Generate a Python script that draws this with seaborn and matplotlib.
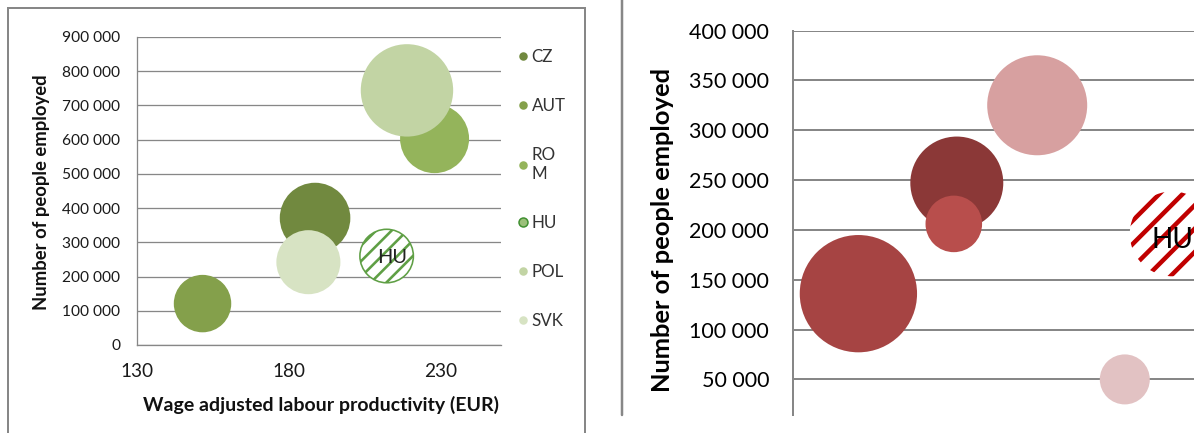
import numpy as np
import pandas as pd
import matplotlib
matplotlib.use("Agg")
import matplotlib.pyplot as plt
import seaborn as sns
from matplotlib.lines import Line2D
from matplotlib.patches import Rectangle
from matplotlib.ticker import FuncFormatter, FixedLocator

# ---------------- data: left chart ----------------
left_countries = ["CZ", "AUT", "ROM", "HU", "POL", "SVK"]
left_legend_labels = ["CZ", "AUT", "RO\nM", "HU", "POL", "SVK"]
left_productivity = [188.7, 151.6, 228.1, 212.3, 219.0, 186.5]
left_employed = [371000, 121000, 603000, 260000, 744000, 242000]
left_bubble = [1245, 825, 1190, 715, 2135, 1025]
left_colors = ["#71893F", "#84A04B", "#94B45B", "#5F9F45", "#C2D4A4", "#D7E3C3"]
left_xticks = [130, 180, 230]
left_yticks = [0, 100000, 200000, 300000, 400000, 500000, 600000, 700000, 800000, 900000]

# ---------------- data: right chart ----------------
right_series = ["S1", "S2", "S3", "S4", "S5", "HU"]
right_productivity = [140.9, 157.3, 156.8, 170.7, 185.3, 193.2]
right_employed = [136000, 247000, 206000, 325000, 50000, 196000]
right_bubble = [3440, 2160, 800, 2500, 625, 1800]
right_colors = ["#A64443", "#8B3837", "#B84E4C", "#D7A0A0", "#E2C2C3", "#C00000"]
right_yticks = [50000, 100000, 150000, 200000, 250000, 300000, 350000, 400000]

W, H, DPI = 1194, 433, 140
P = 72 / DPI  # points per pixel
GRID = "#878787"

sns.set_style("white")
plt.rcParams["font.family"] = ["Lato", "DejaVu Sans"]

fig = plt.figure(figsize=(W / DPI, H / DPI), dpi=DPI)

def fmt(v, pos=None):
    return f"{v:,.0f}".replace(",", " ")

# ---------------- left chart ----------------
ax1 = fig.add_axes([137 / W, 1 - 345 / H, 364 / W, 308 / H])
dfL = pd.DataFrame({"country": left_countries, "x": left_productivity,
                    "y": left_employed, "bubble": left_bubble})
palL = dict(zip(left_countries, left_colors))
vmaxL = max(left_bubble)
sizesL = (0, 4 * P * P * vmaxL)
sns.scatterplot(data=dfL[dfL.country != "HU"], x="x", y="y", hue="country",
                palette=palL, size="bubble", sizes=sizesL, size_norm=(0, vmaxL),
                linewidth=0, alpha=1, legend=False, ax=ax1, zorder=3)
hu = dfL[dfL.country == "HU"]
plt.rcParams["hatch.linewidth"] = 2.6 * P
sns.scatterplot(data=hu, x="x", y="y", size="bubble", sizes=sizesL, size_norm=(0, vmaxL),
                color="white", edgecolor=palL["HU"], linewidth=1.6 * P, hatch="///",
                legend=False, ax=ax1, zorder=3)
coll = ax1.collections[-1]
if hasattr(coll, "set_hatch_linewidth"):
    coll.set_hatch_linewidth(2.6 * P)
ax1.annotate("HU", (hu.x.iloc[0], hu.y.iloc[0]), xytext=(5 * P, -1 * P),
             textcoords="offset points", ha="center", va="center",
             fontsize=20 * P, color="#222222", zorder=4)

ax1.set_xlim(130, 250)
ax1.set_ylim(0, 900000)
ax1.xaxis.set_major_locator(FixedLocator(left_xticks))
ax1.yaxis.set_major_locator(FixedLocator(left_yticks))
ax1.yaxis.set_major_formatter(FuncFormatter(fmt))
ax1.grid(False)
ax1.yaxis.grid(True, color=GRID, lw=1.3 * P)
ax1.set_axisbelow(True)
for s in ["top", "right"]:
    ax1.spines[s].set_visible(False)
for s in ["left", "bottom"]:
    ax1.spines[s].set_color(GRID)
    ax1.spines[s].set_linewidth(1.3 * P)
ax1.tick_params(axis="both", direction="out", length=5 * P, width=1.3 * P,
                color=GRID, labelcolor="#1a1a1a")
ax1.tick_params(axis="x", labelsize=19 * P, pad=13 * P)
ax1.tick_params(axis="y", labelsize=15.5 * P, pad=12 * P)
ax1.set_xlabel("Wage adjusted labour productivity (EUR)", fontsize=19.5 * P,
               fontweight="bold", color="#111111", va="center")
ax1.xaxis.set_label_coords(0.505, -0.195)
ax1.set_ylabel("Number of people employed", fontsize=18.5 * P, fontweight="bold",
               color="#111111", va="center")
ax1.yaxis.set_label_coords(-0.261, 0.497)

handles = []
for c, col in zip(left_countries, left_colors):
    if c == "HU":
        handles.append(Line2D([], [], marker="o", ls="none", markersize=9 * P,
                              markerfacecolor="#9BC07A", markeredgecolor="#3F8F2F",
                              markeredgewidth=1.5 * P))
    else:
        handles.append(Line2D([], [], marker="o", ls="none", markersize=8.5 * P,
                              markerfacecolor=col, markeredgewidth=0))
leg = ax1.legend(handles, left_legend_labels, loc="upper left",
                 bbox_to_anchor=((519 - 137) / 364, (345 - 49) / 308),
                 frameon=False, fontsize=17 * P, handlelength=0.45,
                 handletextpad=0.3, labelspacing=1.95, borderpad=0, borderaxespad=0)
for t in leg.get_texts():
    t.set_color("#333333")

# frame around left chart
fig.patches.append(Rectangle((8 / W, -0.05), (585 - 8) / W, 1 - 8 / H + 0.05,
                             transform=fig.transFigure, fill=False,
                             edgecolor=GRID, lw=2 * P))
# separator line
fig.lines.append(Line2D([622 / W, 622 / W], [1 - 415 / H, 1], transform=fig.transFigure,
                        color=GRID, lw=2.5 * P))

# ---------------- right chart ----------------
ax2 = fig.add_axes([793 / W, 1 - 415 / H, 600 / W, 384.5 / H])
dfR = pd.DataFrame({"series": right_series, "x": right_productivity,
                    "y": right_employed, "bubble": right_bubble})
palR = dict(zip(right_series, right_colors))
vmaxR = max(right_bubble)
sizesR = (0, 4 * P * P * vmaxR)
sns.scatterplot(data=dfR[dfR.series != "HU"], x="x", y="y", hue="series",
                palette=palR, size="bubble", sizes=sizesR, size_norm=(0, vmaxR),
                linewidth=0, alpha=1, legend=False, ax=ax2, zorder=3)
huR = dfR[dfR.series == "HU"]
sns.scatterplot(data=huR, x="x", y="y", size="bubble", sizes=sizesR, size_norm=(0, vmaxR),
                color="white", edgecolor=palR["HU"], linewidth=0, hatch="//",
                legend=False, ax=ax2, zorder=3)
coll = ax2.collections[-1]
if hasattr(coll, "set_hatch_linewidth"):
    coll.set_hatch_linewidth(4.5 * P)
ax2.annotate("HU", (huR.x.iloc[0], huR.y.iloc[0]), xytext=(0, -6 * P),
             textcoords="offset points", ha="center", va="center",
             fontsize=28 * P, color="#000000", zorder=4)

ax2.set_xlim(130, 230)
ax2.set_ylim(14300, 400000)
ax2.yaxis.set_major_locator(FixedLocator(right_yticks))
ax2.yaxis.set_major_formatter(FuncFormatter(fmt))
ax2.set_xticks([])
ax2.set_xlabel("")
ax2.grid(False)
ax2.yaxis.grid(True, color=GRID, lw=2 * P)
ax2.set_axisbelow(True)
for s in ["top", "right", "bottom"]:
    ax2.spines[s].set_visible(False)
ax2.spines["left"].set_color(GRID)
ax2.spines["left"].set_linewidth(2 * P)
ax2.tick_params(axis="y", direction="out", length=8 * P, width=2 * P, color=GRID,
                labelsize=21.5 * P, pad=16 * P, labelcolor="#000000")
ax2.set_ylabel("Number of people employed", fontsize=25.5 * P, fontweight="bold",
               color="#000000", va="center")
ax2.yaxis.set_label_coords(-0.218, 0.481)

fig.savefig("out.png", dpi=DPI)
